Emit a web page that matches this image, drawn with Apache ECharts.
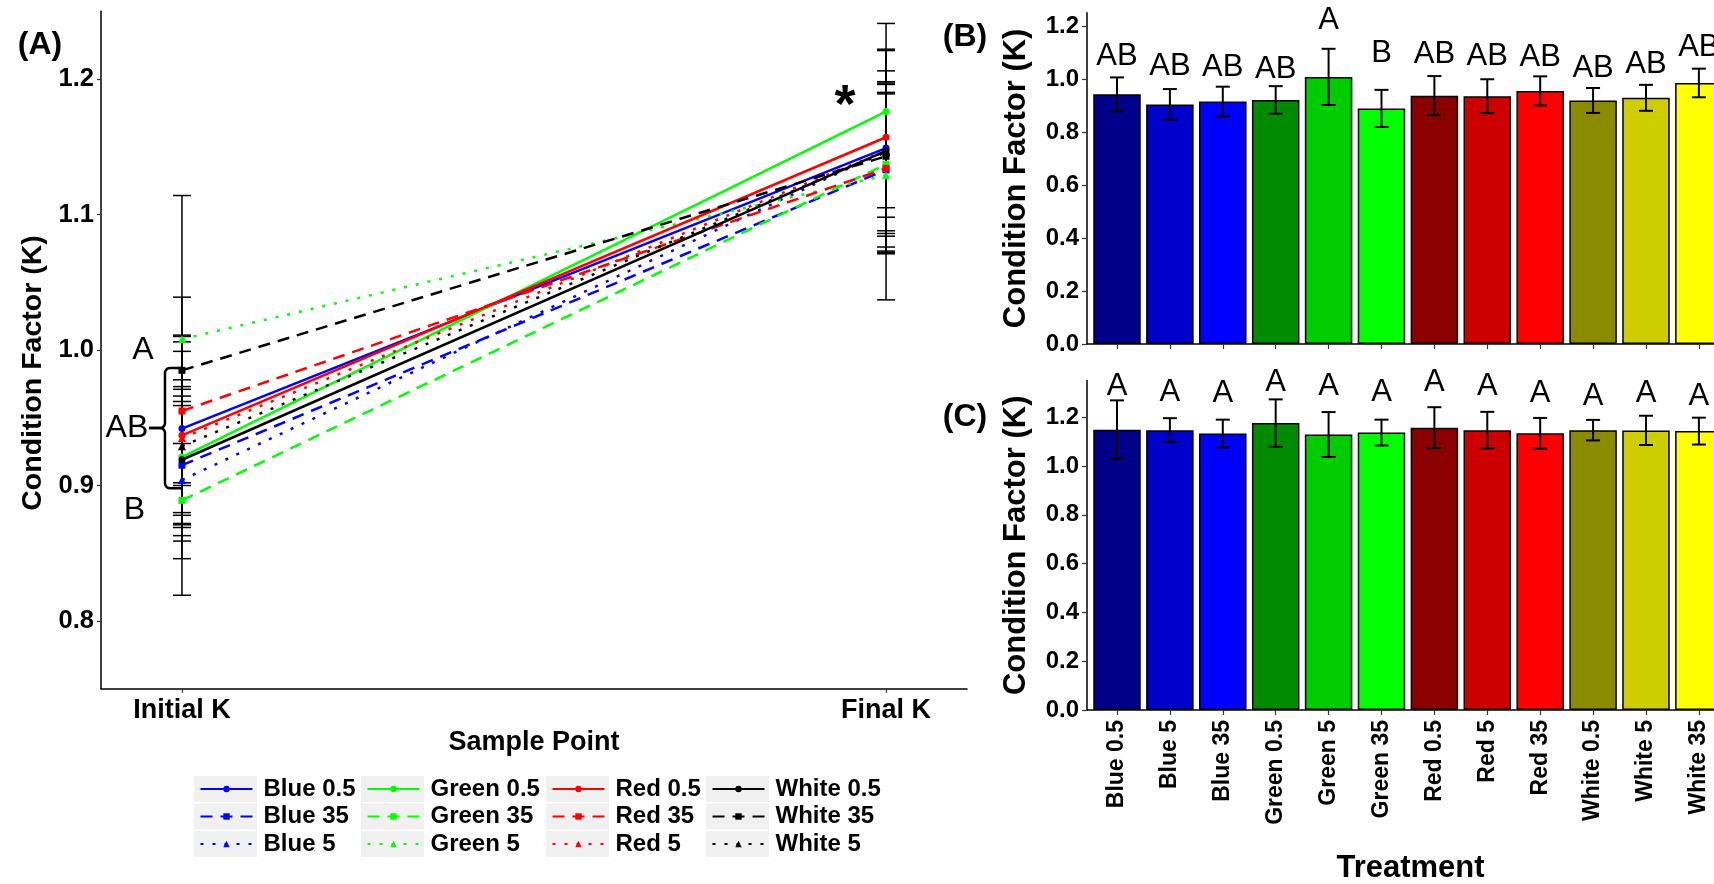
<!DOCTYPE html>
<html>
<head>
<meta charset="utf-8">
<script src="https://cdn.jsdelivr.net/npm/echarts@6/dist/echarts.min.js"></script>
<style>
  html, body { margin: 0; padding: 0; background: #ffffff; }
  #chart { width: 1714px; height: 884px; }
</style>
</head>
<body>
<div id="chart"></div>
<script>
// ---- data ---------------------------------------------------------------
const treatments = ['Blue 0.5', 'Blue 5', 'Blue 35', 'Green 0.5', 'Green 5', 'Green 35',
                    'Red 0.5', 'Red 5', 'Red 35', 'White 0.5', 'White 5', 'White 35'];
const samplePoints = ['Initial K', 'Final K'];

// condition factor (mean and SD) per treatment
const initialK  = [0.942, 0.904, 0.915, 0.921, 1.008, 0.889, 0.937, 0.935, 0.955, 0.919, 0.929, 0.985];
const initialSD = [0.064, 0.058, 0.056, 0.052, 0.106, 0.070, 0.074, 0.064, 0.055, 0.047, 0.049, 0.054];
const finalK    = [1.149, 1.147, 1.133, 1.176, 1.129, 1.137, 1.157, 1.147, 1.134, 1.147, 1.146, 1.143];
const finalSD   = [0.120, 0.049, 0.057, 0.097, 0.092, 0.053, 0.084, 0.075, 0.063, 0.042, 0.060, 0.055];

// post-hoc groupings and the height of each letter (baseline, K units)
const initialGroups  = ['AB', 'AB', 'AB', 'AB', 'A', 'B', 'AB', 'AB', 'AB', 'AB', 'AB', 'AB'];
const initialGroupY  = [1.046, 1.008, 1.003, 0.995, 1.180, 1.056, 1.052, 1.043, 1.041, 0.999, 1.015, 1.078];
const finalGroups    = ['A', 'A', 'A', 'A', 'A', 'A', 'A', 'A', 'A', 'A', 'A', 'A'];
const finalGroupY    = [1.283, 1.255, 1.251, 1.296, 1.283, 1.255, 1.296, 1.283, 1.251, 1.242, 1.251, 1.242];

// grouping brace on the initial sample (top, middle, bottom in K units) and its letters
const braceK       = [0.9867, 0.9424, 0.898];
const braceLetters = ['A', 'AB', 'B'];
const braceLetterK = [1.000, 0.9424, 0.882];
const finalMark    = '*';
const finalMarkK   = 1.179;

const yTicksLines = [0.8, 0.9, 1.0, 1.1, 1.2];
const yTicksBars  = [0, 0.2, 0.4, 0.6, 0.8, 1.0, 1.2];

// ---- styling ------------------------------------------------------------
const SANS = '"Liberation Sans", Arial, sans-serif';
const lineColour = { Blue: '#0000ff', Green: '#00ff00', Red: '#ff0000', White: '#000000' };
const barColour = {
  'Blue 0.5': '#00008b', 'Blue 5': '#0000cd', 'Blue 35': '#0000ff',
  'Green 0.5': '#008b00', 'Green 5': '#00cd00', 'Green 35': '#00ff00',
  'Red 0.5': '#8b0000', 'Red 5': '#cd0000', 'Red 35': '#ff0000',
  'White 0.5': '#8b8b00', 'White 5': '#cdcd00', 'White 35': '#ffff00'
};
const levelStyle = {
  '0.5': { type: 'solid', symbol: 'circle', size: 7 },
  '35':  { type: [12, 8], symbol: 'rect', size: 7 },
  '5':   { type: [3, 9], symbol: 'triangle', size: 8 }
};
const Y_MIN_A = 0.75, Y_MAX_A = 1.25;
// treatment axis of the bar panels: first tick 0.567 bands in, right end runs to the page edge
const BAR_X_MIN = 0.433, BAR_X_MAX = 12.286;

// ---- helpers ------------------------------------------------------------
function whiskerRenderer(capHalf, width) {
  return function (params, api) {
    const x = api.value(0);
    const lo = api.coord([x, api.value(1)]);
    const hi = api.coord([x, api.value(2)]);
    const style = { stroke: '#000', lineWidth: width };
    return {
      type: 'group',
      children: [
        { type: 'line', shape: { x1: hi[0], y1: hi[1], x2: lo[0], y2: lo[1] }, style },
        { type: 'line', shape: { x1: hi[0] - capHalf, y1: hi[1], x2: hi[0] + capHalf, y2: hi[1] }, style },
        { type: 'line', shape: { x1: lo[0] - capHalf, y1: lo[1], x2: lo[0] + capHalf, y2: lo[1] }, style }
      ]
    };
  };
}

// letters sit with their baseline on the given value
function letterRenderer(labels, size) {
  return function (params, api) {
    const p = api.coord([api.value(0), api.value(1)]);
    return {
      type: 'text', x: p[0], y: p[1],
      style: { text: labels[params.dataIndex], font: size + 'px ' + SANS, fill: '#000',
               align: 'center', verticalAlign: 'bottom', lineHeight: size * 0.7 }
    };
  };
}

// ---- panel A: lines ----------------------------------------------------
const lineSeries = treatments.map((name, i) => {
  const [colour, level] = name.split(' ');
  const st = levelStyle[level];
  return {
    type: 'line', name, xAxisIndex: 0, yAxisIndex: 0,
    data: [[0, initialK[i]], [1, finalK[i]]],
    symbol: st.symbol, symbolSize: st.size, showSymbol: true,
    lineStyle: { color: lineColour[colour], width: 2.5, type: st.type },
    itemStyle: { color: lineColour[colour] },
    z: 3, silent: true
  };
});

// whiskers reaching past the panel limits are dropped
const whiskersA = [];
treatments.forEach((t, i) => {
  [[0, initialK[i], initialSD[i]], [1, finalK[i], finalSD[i]]].forEach(([x, m, sd]) => {
    if (m + sd <= Y_MAX_A && m - sd >= Y_MIN_A) whiskersA.push([x, m - sd, m + sd]);
  });
});

const braceSeries = {
  type: 'custom', xAxisIndex: 0, yAxisIndex: 0, silent: true, clip: false, z: 4,
  data: [[0, braceK[0], braceK[1], braceK[2]]],
  renderItem(params, api) {
    const top = api.coord([0, api.value(1)]);
    const mid = api.coord([0, api.value(2)]);
    const bot = api.coord([0, api.value(3)]);
    const R = top[0], S = R - 17, N = R - 33, r = 5;
    const arc = (list, cx, cy, a0, a1) => {
      for (let k = 0; k <= 6; k++) {
        const a = a0 + (a1 - a0) * k / 6;
        list.push([cx + r * Math.cos(a), cy + r * Math.sin(a)]);
      }
    };
    const upper = [[R, top[1]]];
    arc(upper, S + r, top[1] + r, -Math.PI / 2, -Math.PI);
    arc(upper, S - r, mid[1] - r, 0, Math.PI / 2);
    upper.push([N, mid[1]]);
    const lower = [[N, mid[1]]];
    arc(lower, S - r, mid[1] + r, -Math.PI / 2, 0);
    arc(lower, S + r, bot[1] - r, Math.PI, Math.PI / 2);
    lower.push([R, bot[1]]);
    const style = { stroke: '#000', lineWidth: 2.5, fill: null };
    const dx = [-39, -55, -47.5];
    const letters = braceLetters.map((t, j) => {
      const p = api.coord([0, braceLetterK[j]]);
      return { type: 'text', x: p[0] + dx[j], y: p[1],
               style: { text: t, font: '32px ' + SANS, fill: '#000', align: 'center', verticalAlign: 'middle' } };
    });
    const fm = api.coord([1, finalMarkK]);
    letters.push({ type: 'text', x: fm[0] - 41, y: fm[1],
                   style: { text: finalMark, font: 'bold 54px ' + SANS, fill: '#000', align: 'center', verticalAlign: 'middle' } });
    return {
      type: 'group',
      children: [
        { type: 'polyline', shape: { points: upper }, style },
        { type: 'polyline', shape: { points: lower }, style }
      ].concat(letters)
    };
  }
};

// ---- panels B and C: bars ---------------------------------------------
function barSeries(values, axis) {
  return {
    type: 'bar', xAxisIndex: axis, yAxisIndex: axis, barWidth: 47.5, silent: true, z: 2, clip: false,
    data: treatments.map((t, i) => ({
      value: [i + 1, values[i]],
      itemStyle: { color: barColour[t], borderColor: '#000', borderWidth: 1.5 }
    }))
  };
}
function barWhiskers(values, sd, axis) {
  return {
    type: 'custom', xAxisIndex: axis, yAxisIndex: axis, silent: true, z: 4, clip: false,
    data: values.map((v, i) => [i + 1, v - sd[i], v + sd[i]]),
    encode: { x: 0, y: [1, 2] },
    renderItem: whiskerRenderer(7, 2)
  };
}
function barLetters(labels, ys, axis) {
  return {
    type: 'custom', xAxisIndex: axis, yAxisIndex: axis, silent: true, z: 5, clip: false,
    data: ys.map((y, i) => [i + 1, y]),
    renderItem: letterRenderer(labels, 31)
  };
}

const boldText = (size) => ({ fontFamily: SANS, fontWeight: 'bold', fontSize: size, color: '#000' });
const axisLineStyle = { show: true, onZero: false, lineStyle: { color: '#000', width: 1.5 } };
const tickStyle = { lineStyle: { color: '#333', width: 1.2 } };
const ticksIdx = treatments.map((t, i) => i + 1);

// legend: one column per light colour, each key on a light grey tile
const colours = ['Blue', 'Green', 'Red', 'White'];
const legendLeft = [199.5, 366.5, 551.5, 711.5];
const legendTop = 776, rowPitch = 27.5;
const legends = colours.map((c, k) => ({
  orient: 'vertical', left: legendLeft[k], top: legendTop, padding: 0,
  itemWidth: 52, itemHeight: 8, itemGap: 1.5, selectedMode: false,
  data: [c + ' 0.5', c + ' 35', c + ' 5'],
  textStyle: { fontFamily: SANS, fontWeight: 'bold', fontSize: 24, color: '#000', lineHeight: 26, padding: [0, 0, 0, 6] }
}));
const keyTiles = [];
colours.forEach((c, k) => {
  for (let r = 0; r < 3; r++) {
    keyTiles.push({ type: 'rect', z: -1, shape: { x: legendLeft[k] - 5.5, y: legendTop + r * rowPitch, width: 63, height: 26 },
                    style: { fill: '#f0f0f0' } });
  }
});

const option = {
  animation: false,
  backgroundColor: '#ffffff',
  textStyle: { fontFamily: SANS },
  grid: [
    { left: 101, top: 11.25, width: 866, height: 677.5, outerBoundsMode: 'none' },
    { left: 1087, top: 12.75, right: 0, height: 331.25, outerBoundsMode: 'none' },
    { left: 1087, top: 380.6, right: 0, height: 329.4, outerBoundsMode: 'none' }
  ],
  xAxis: [
    {
      gridIndex: 0, type: 'value', min: -0.115, max: 1.115,
      axisLine: axisLineStyle,
      axisTick: Object.assign({ show: true, length: 4, customValues: [0, 1] }, tickStyle),
      axisLabel: Object.assign({ customValues: [0, 1], formatter: v => samplePoints[Math.round(v)], margin: 8 }, boldText(27)),
      splitLine: { show: false },
      name: 'Sample Point', nameLocation: 'middle', nameGap: 26, nameTextStyle: boldText(27)
    },
    {
      gridIndex: 1, type: 'value', min: BAR_X_MIN, max: BAR_X_MAX,
      axisLine: axisLineStyle,
      axisTick: Object.assign({ show: true, length: 5, customValues: ticksIdx }, tickStyle),
      axisLabel: { show: false },
      splitLine: { show: false }
    },
    {
      gridIndex: 2, type: 'value', min: BAR_X_MIN, max: BAR_X_MAX,
      axisLine: axisLineStyle,
      axisTick: Object.assign({ show: true, length: 5, customValues: ticksIdx }, tickStyle),
      axisLabel: Object.assign({ customValues: ticksIdx, formatter: v => treatments[Math.round(v) - 1], rotate: 90, margin: 10 }, boldText(23)),
      splitLine: { show: false },
      name: 'Treatment', nameLocation: 'middle', nameGap: 143,
      nameTextStyle: Object.assign({ padding: [0, 0, 0, 20] }, boldText(31))
    }
  ],
  yAxis: [
    {
      gridIndex: 0, type: 'value', min: Y_MIN_A, max: Y_MAX_A,
      axisLine: axisLineStyle,
      axisTick: Object.assign({ show: true, length: 4, customValues: yTicksLines }, tickStyle),
      axisLabel: Object.assign({ customValues: yTicksLines, formatter: v => v.toFixed(1), margin: 7 }, boldText(25.5)),
      splitLine: { show: false },
      name: 'Condition Factor (K)', nameLocation: 'middle', nameGap: 52,
      nameTextStyle: Object.assign({ padding: [0, 46, 0, 0] }, boldText(28.5))
    },
    {
      gridIndex: 1, type: 'value', min: 0, max: 1.25,
      axisLine: axisLineStyle,
      axisTick: Object.assign({ show: true, length: 5, customValues: yTicksBars }, tickStyle),
      axisLabel: Object.assign({ customValues: yTicksBars, formatter: v => v.toFixed(1), margin: 8 }, boldText(24)),
      splitLine: { show: false },
      name: 'Condition Factor (K)', nameLocation: 'middle', nameGap: 55, nameTextStyle: boldText(31)
    },
    {
      gridIndex: 2, type: 'value', min: 0, max: 1.35,
      axisLine: axisLineStyle,
      axisTick: Object.assign({ show: true, length: 5, customValues: yTicksBars }, tickStyle),
      axisLabel: Object.assign({ customValues: yTicksBars, formatter: v => v.toFixed(1), margin: 8 }, boldText(24)),
      splitLine: { show: false },
      name: 'Condition Factor (K)', nameLocation: 'middle', nameGap: 55, nameTextStyle: boldText(31)
    }
  ],
  legend: legends,
  graphic: keyTiles.concat([
    { type: 'text', x: 40, y: 45, style: { text: '(A)', font: 'bold 32px ' + SANS, fill: '#000', align: 'center', verticalAlign: 'middle' } },
    { type: 'text', x: 965, y: 37, style: { text: '(B)', font: 'bold 32px ' + SANS, fill: '#000', align: 'center', verticalAlign: 'middle' } },
    { type: 'text', x: 965, y: 417, style: { text: '(C)', font: 'bold 32px ' + SANS, fill: '#000', align: 'center', verticalAlign: 'middle' } }
  ]),
  series: [
    {
      type: 'custom', xAxisIndex: 0, yAxisIndex: 0, silent: true, z: 2, clip: false,
      data: whiskersA, encode: { x: 0, y: [1, 2] },
      renderItem: whiskerRenderer(9, 1.5)
    },
    ...lineSeries,
    braceSeries,
    barSeries(initialK, 1),
    barWhiskers(initialK, initialSD, 1),
    barLetters(initialGroups, initialGroupY, 1),
    barSeries(finalK, 2),
    barWhiskers(finalK, finalSD, 2),
    barLetters(finalGroups, finalGroupY, 2)
  ]
};

const chart = echarts.init(document.getElementById('chart'));
chart.setOption(option);
</script>
</body>
</html>
